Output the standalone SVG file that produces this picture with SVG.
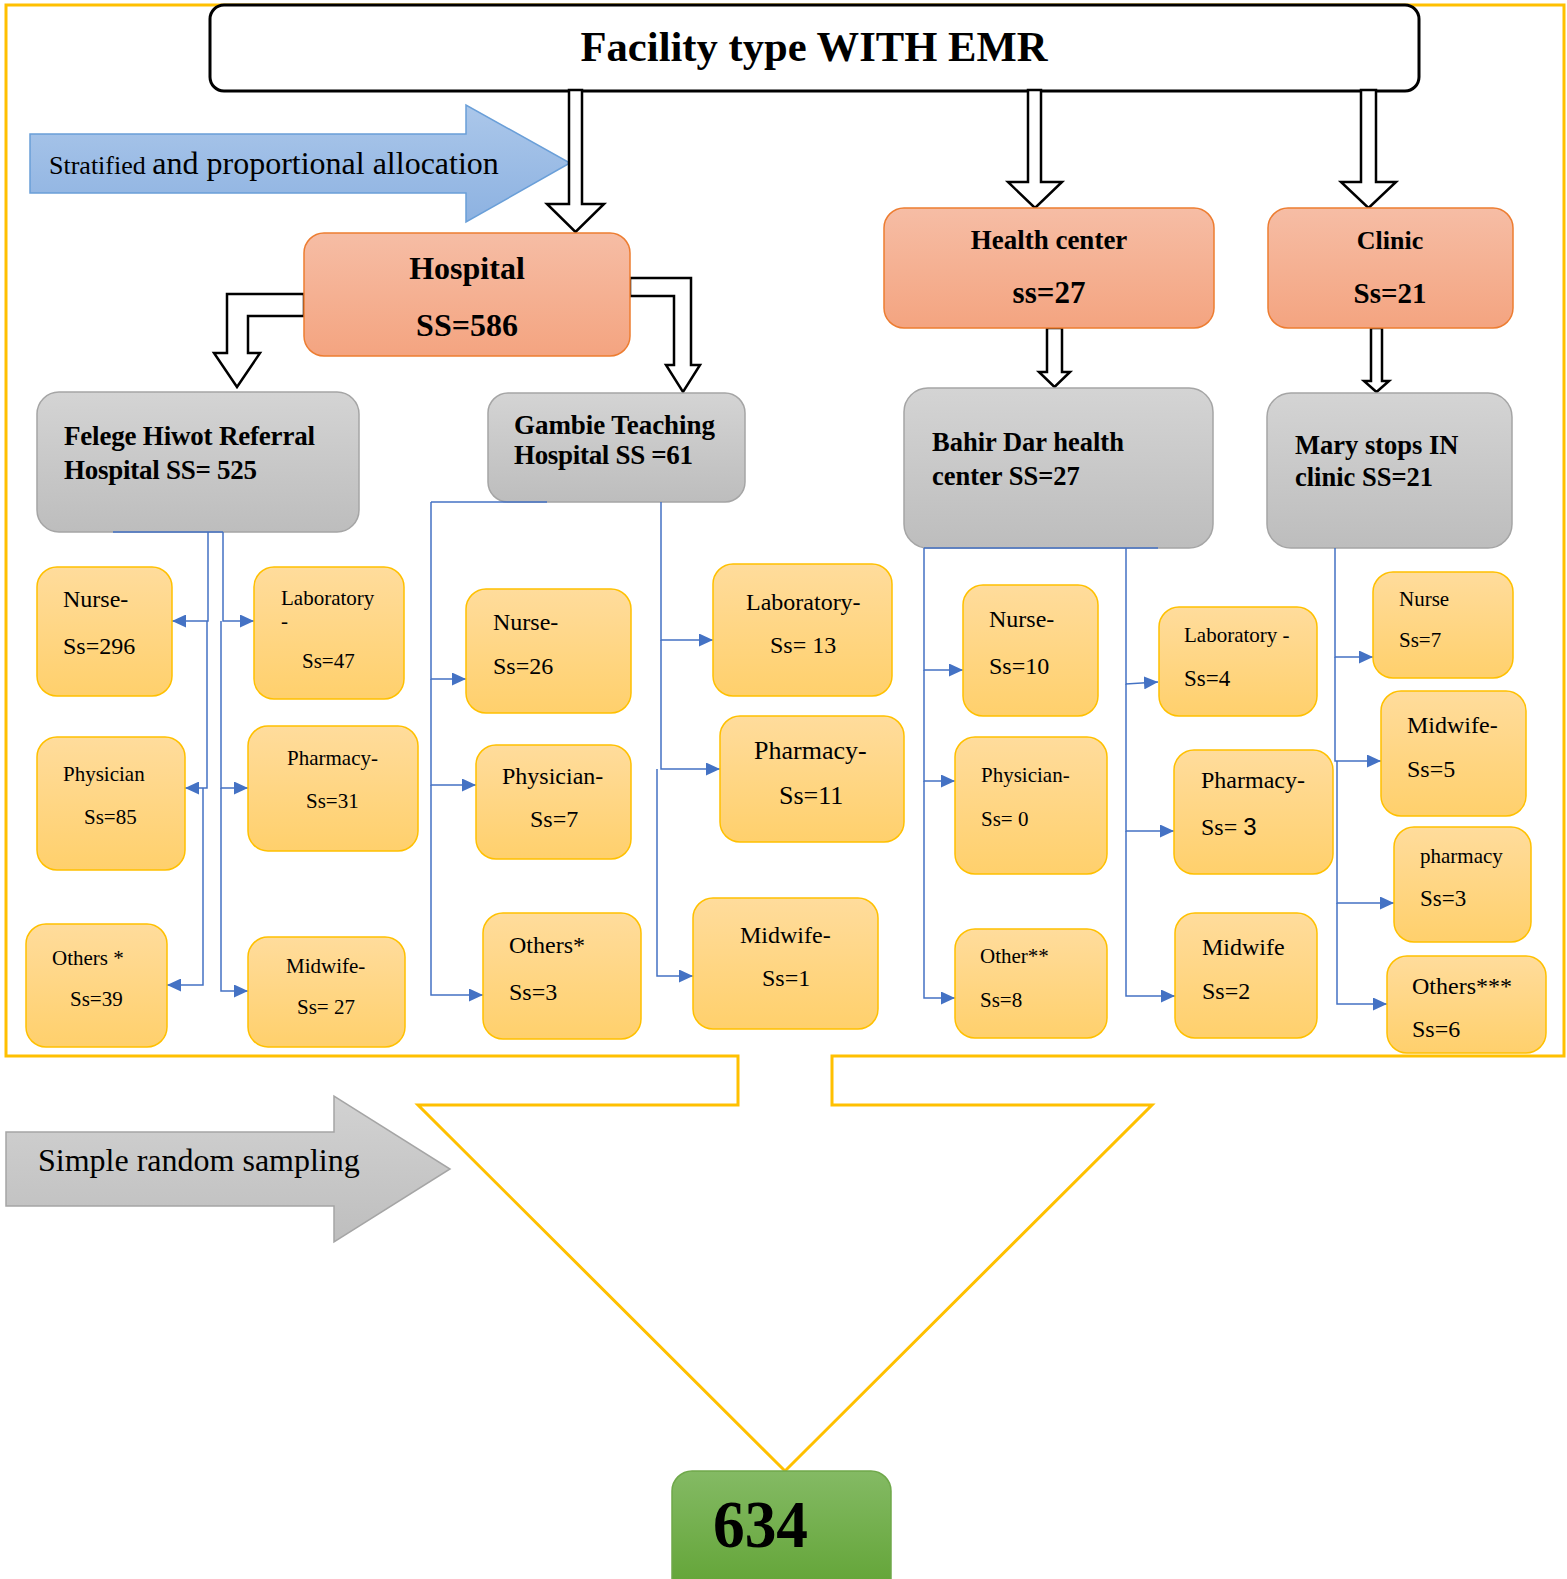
<svg xmlns="http://www.w3.org/2000/svg" width="1567" height="1579" viewBox="0 0 1567 1579">
<defs>
<linearGradient id="gSal" x1="0" y1="0" x2="0" y2="1"><stop offset="0" stop-color="#F6BDA5"/><stop offset="1" stop-color="#F4A480"/></linearGradient>
<linearGradient id="gGray" x1="0" y1="0" x2="0" y2="1"><stop offset="0" stop-color="#D4D4D4"/><stop offset="1" stop-color="#BDBDBD"/></linearGradient>
<linearGradient id="gYel" x1="0" y1="0" x2="0" y2="1"><stop offset="0" stop-color="#FFDC9C"/><stop offset="1" stop-color="#FFD06C"/></linearGradient>
<linearGradient id="gGrn" x1="0" y1="0" x2="0" y2="1"><stop offset="0" stop-color="#84BA64"/><stop offset="1" stop-color="#5FA232"/></linearGradient>
<linearGradient id="gBlue" x1="0" y1="0" x2="0" y2="1"><stop offset="0" stop-color="#ABC7EA"/><stop offset="1" stop-color="#8DB2E1"/></linearGradient>
<linearGradient id="gArrG" x1="0" y1="0" x2="0" y2="1"><stop offset="0" stop-color="#D2D2D2"/><stop offset="1" stop-color="#BEBEBE"/></linearGradient>
<marker id="ah" markerUnits="userSpaceOnUse" markerWidth="14" markerHeight="13" refX="14" refY="6.5" orient="auto"><path d="M0,0 L14,6.5 L0,13 z" fill="#4472C4"/></marker>
</defs>
<style>
text{font-family:"Liberation Serif","Times New Roman",serif;fill:#000}
.b{font-weight:bold}
.sal{fill:url(#gSal);stroke:#ED7D31;stroke-width:1.5}
.gry{fill:url(#gGray);stroke:#A5A5A5;stroke-width:1.5}
.yel{fill:url(#gYel);stroke:#FFC000;stroke-width:1.5}
.blk{fill:#fff;stroke:#000;stroke-width:2.5;stroke-linejoin:miter}
.con path{fill:none;stroke:#4472C4;stroke-width:1.5}
.con .a{marker-end:url(#ah)}
</style>
<rect width="1567" height="1579" fill="#fff"/>
<polygon id="frame" points="6,5 1564,5 1564,1056 832,1056 832,1105 1152,1105 785,1471 418,1105 738,1105 738,1056 6,1056" fill="none" stroke="#FFC000" stroke-width="3"/>

<g id="title"><rect x="210" y="5" width="1209" height="86" rx="14" fill="#fff" stroke="#000" stroke-width="3"/>
<text class="b" x="814" y="61" font-size="43" text-anchor="middle" textLength="467" lengthAdjust="spacingAndGlyphs">Facility type WITH EMR</text></g>

<g id="arrow-stratified"><polygon points="30,134 466,134 466,105 570,163 466,222 466,193 30,193" fill="url(#gBlue)" stroke="#6A9FD8" stroke-width="1.5"/>
<text x="49" y="174" font-size="26">Stratified <tspan font-size="32">and proportional allocation</tspan></text></g>

<g id="block-arrows">
<polygon class="blk" points="569,90 582,90 582,204 604,204 575.5,232 547,204 569,204"/>
<polygon class="blk" points="1028,90 1041,90 1041,182 1062,182 1035,208 1008,182 1028,182"/>
<polygon class="blk" points="1361,90 1376,90 1376,182 1396,182 1368.5,208 1341,182 1361,182"/>
<polygon class="blk" points="1047,328 1062,328 1062,372 1070,372 1054.5,387 1039,372 1047,372"/>
<polygon class="blk" points="1371,328 1382,328 1382,381 1389,381 1376.5,392 1364,381 1371,381"/>
<polygon class="blk" points="304,294 227,294 227,353 214,353 237,387 260,353 248,353 248,316 304,316"/>
<polygon class="blk" points="630,278 691,278 691,365 700,365 683,392 666,365 674,365 674,296 630,296"/>
</g>

<g id="hospital"><rect class="sal" x="304" y="233" width="326" height="123" rx="20"/>
<text class="b" x="467" y="279" font-size="32" text-anchor="middle">Hospital</text>
<text class="b" x="467" y="336" font-size="32" text-anchor="middle">SS=586</text></g>
<g id="health-center"><rect class="sal" x="884" y="208" width="330" height="120" rx="20"/>
<text class="b" x="1049" y="249" font-size="27" text-anchor="middle">Health center</text>
<text class="b" x="1049" y="303" font-size="31" text-anchor="middle">ss=27</text></g>
<g id="clinic"><rect class="sal" x="1268" y="208" width="245" height="120" rx="20"/>
<text class="b" x="1390" y="249" font-size="26" text-anchor="middle">Clinic</text>
<text class="b" x="1390" y="303" font-size="29" text-anchor="middle">Ss=21</text></g>

<g id="felege"><rect class="gry" x="37" y="392" width="322" height="140" rx="22"/>
<text class="b" x="64" y="445" font-size="27" textLength="251" lengthAdjust="spacing">Felege Hiwot Referral</text>
<text class="b" x="64" y="479" font-size="27" textLength="193" lengthAdjust="spacing">Hospital SS= 525</text></g>
<g id="gambie"><rect class="gry" x="488" y="393" width="257" height="109" rx="20"/>
<text class="b" x="514" y="434" font-size="27" textLength="201" lengthAdjust="spacing">Gambie Teaching</text>
<text class="b" x="514" y="464" font-size="27" textLength="179" lengthAdjust="spacing">Hospital SS =61</text></g>
<g id="bahirdar"><rect class="gry" x="904" y="388" width="309" height="160" rx="24"/>
<text class="b" x="932" y="451" font-size="26.5">Bahir Dar health</text>
<text class="b" x="932" y="485" font-size="26.5">center SS=27</text></g>
<g id="marystops"><rect class="gry" x="1267" y="393" width="245" height="155" rx="24"/>
<text class="b" x="1295" y="454" font-size="26.5">Mary stops IN</text>
<text class="b" x="1295" y="486" font-size="26.5">clinic SS=21</text></g>

<g class="con" id="connectors">
<path d="M113,532 H223"/>
<path class="a" d="M208,532 V621 H172"/>
<path class="a" d="M207,621 V788 H185"/>
<path class="a" d="M203,788 V985 H167"/>
<path class="a" d="M223,532 V621 H254"/>
<path class="a" d="M221,621 V788 H248"/>
<path class="a" d="M221,788 V991 H248"/>
<path d="M431,502 H547"/>
<path class="a" d="M431,502 V679 H466"/>
<path class="a" d="M431,679 V785 H476"/>
<path class="a" d="M431,785 V995 H483"/>
<path class="a" d="M661,502 V640 H713"/>
<path class="a" d="M661,640 V769 H720"/>
<path class="a" d="M657,769 V976 H693"/>
<path d="M924,548 H1158"/>
<path class="a" d="M924,548 V670 H963"/>
<path class="a" d="M924,670 V781 H955"/>
<path class="a" d="M924,781 V998 H955"/>
<path class="a" d="M1126,548 V684 L1158,682"/>
<path class="a" d="M1126,684 V831 H1174"/>
<path class="a" d="M1126,831 V996 H1175"/>
<path class="a" d="M1335,548 V657 H1373"/>
<path class="a" d="M1335,657 V761 H1381"/>
<path class="a" d="M1337,761 V903 H1394"/>
<path class="a" d="M1337,903 V1004 H1387"/>
</g>

<g id="f-nurse"><rect class="yel" x="37" y="567" width="135" height="129" rx="20"/><text x="63" y="607" font-size="24">Nurse-</text><text x="63" y="654" font-size="24">Ss=296</text></g>
<g id="f-lab"><rect class="yel" x="254" y="567" width="150" height="132" rx="20"/><text x="281" y="605" font-size="21">Laboratory</text><text x="281" y="628" font-size="21">-</text><text x="302" y="668" font-size="21">Ss=47</text></g>
<g id="f-phys"><rect class="yel" x="37" y="737" width="148" height="133" rx="20"/><text x="63" y="781" font-size="21">Physician</text><text x="84" y="824" font-size="21">Ss=85</text></g>
<g id="f-pharm"><rect class="yel" x="248" y="726" width="170" height="125" rx="20"/><text x="287" y="765" font-size="21">Pharmacy-</text><text x="306" y="808" font-size="21">Ss=31</text></g>
<g id="f-others"><rect class="yel" x="26" y="924" width="141" height="123" rx="20"/><text x="52" y="965" font-size="21">Others *</text><text x="70" y="1006" font-size="21">Ss=39</text></g>
<g id="f-mid"><rect class="yel" x="248" y="937" width="157" height="110" rx="20"/><text x="286" y="973" font-size="21">Midwife-</text><text x="297" y="1014" font-size="21">Ss= 27</text></g>

<g id="g-nurse"><rect class="yel" x="466" y="589" width="165" height="124" rx="20"/><text x="493" y="630" font-size="24">Nurse-</text><text x="493" y="674" font-size="24">Ss=26</text></g>
<g id="g-phys"><rect class="yel" x="476" y="745" width="155" height="114" rx="20"/><text x="502" y="784" font-size="24">Physician-</text><text x="530" y="827" font-size="24">Ss=7</text></g>
<g id="g-others"><rect class="yel" x="483" y="913" width="158" height="126" rx="20"/><text x="509" y="953" font-size="24">Others*</text><text x="509" y="1000" font-size="24">Ss=3</text></g>
<g id="g-lab"><rect class="yel" x="713" y="564" width="179" height="132" rx="20"/><text x="746" y="610" font-size="24">Laboratory-</text><text x="770" y="653" font-size="24">Ss= 13</text></g>
<g id="g-pharm"><rect class="yel" x="720" y="716" width="184" height="126" rx="20"/><text x="754" y="759" font-size="26">Pharmacy-</text><text x="779" y="804" font-size="26">Ss=11</text></g>
<g id="g-mid"><rect class="yel" x="693" y="898" width="185" height="131" rx="20"/><text x="740" y="943" font-size="24">Midwife-</text><text x="762" y="986" font-size="24">Ss=1</text></g>

<g id="b-nurse"><rect class="yel" x="963" y="585" width="135" height="131" rx="20"/><text x="989" y="627" font-size="24">Nurse-</text><text x="989" y="674" font-size="24">Ss=10</text></g>
<g id="b-phys"><rect class="yel" x="955" y="737" width="152" height="137" rx="20"/><text x="981" y="782" font-size="21">Physician-</text><text x="981" y="826" font-size="21">Ss= 0</text></g>
<g id="b-other"><rect class="yel" x="955" y="929" width="152" height="109" rx="20"/><text x="980" y="963" font-size="21">Other**</text><text x="980" y="1007" font-size="21">Ss=8</text></g>
<g id="b-lab"><rect class="yel" x="1159" y="607" width="158" height="109" rx="20"/><text x="1184" y="642" font-size="21">Laboratory -</text><text x="1184" y="686" font-size="23">Ss=4</text></g>
<g id="b-pharm"><rect class="yel" x="1174" y="750" width="159" height="124" rx="20"/><text x="1201" y="788" font-size="24">Pharmacy-</text><text x="1201" y="835" font-size="24">Ss= <tspan font-family="Liberation Sans, Arial, sans-serif">3</tspan></text></g>
<g id="b-mid"><rect class="yel" x="1175" y="913" width="142" height="125" rx="20"/><text x="1202" y="955" font-size="24">Midwife</text><text x="1202" y="999" font-size="24">Ss=2</text></g>

<g id="m-nurse"><rect class="yel" x="1373" y="572" width="140" height="106" rx="20"/><text x="1399" y="606" font-size="21">Nurse</text><text x="1399" y="647" font-size="21">Ss=7</text></g>
<g id="m-mid"><rect class="yel" x="1381" y="691" width="145" height="125" rx="20"/><text x="1407" y="733" font-size="24">Midwife-</text><text x="1407" y="777" font-size="24">Ss=5</text></g>
<g id="m-pharm"><rect class="yel" x="1394" y="827" width="137" height="115" rx="20"/><text x="1420" y="863" font-size="21">pharmacy</text><text x="1420" y="906" font-size="23">Ss=3</text></g>
<g id="m-others"><rect class="yel" x="1387" y="956" width="159" height="97" rx="20"/><text x="1412" y="994" font-size="24">Others***</text><text x="1412" y="1037" font-size="24">Ss=6</text></g>

<g id="arrow-srs"><polygon points="6,1132 334,1132 334,1096 450,1169 334,1242 334,1206 6,1206" fill="url(#gArrG)" stroke="#A5A5A5" stroke-width="1.5"/>
<text x="38" y="1171" font-size="32">Simple random sampling</text></g>

<g id="total"><rect x="672" y="1471" width="219" height="130" rx="20" fill="url(#gGrn)" stroke="#6FA84A" stroke-width="1.5"/>
<text class="b" x="713" y="1547" font-size="68" textLength="95" lengthAdjust="spacingAndGlyphs">634</text></g>
</svg>
